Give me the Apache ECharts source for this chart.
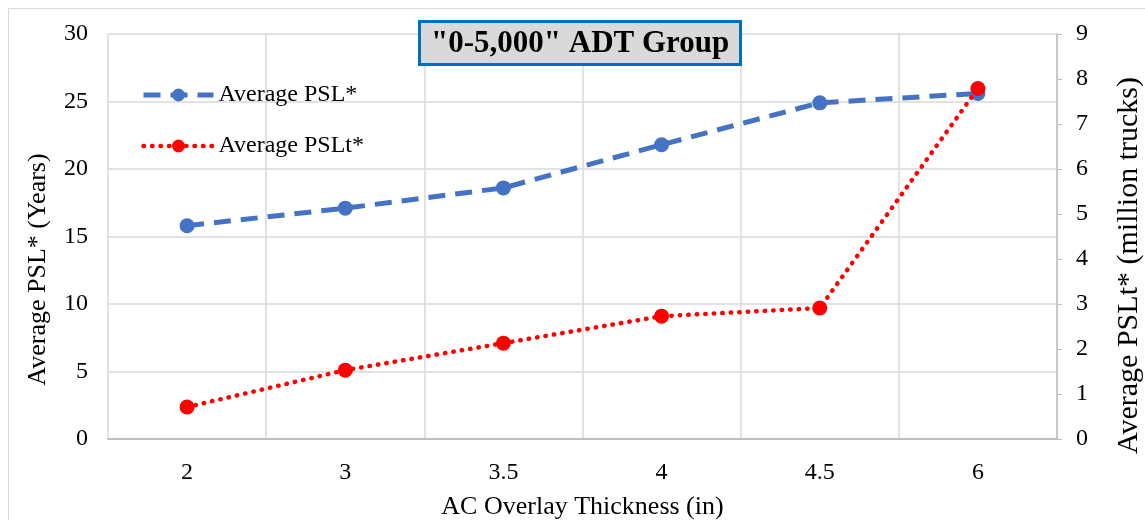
<!DOCTYPE html>
<html>
<head>
<meta charset="utf-8">
<script src="https://cdn.jsdelivr.net/npm/echarts@6/dist/echarts.min.js"></script>
<style>
  html, body { margin: 0; padding: 0; background: #fff; }
  #chart1 { width: 1145px; height: 520px; }
</style>
</head>
<body>
<div id="chart1"></div>
<script>
const categories = ['2', '3', '3.5', '4', '4.5', '6'];
const avgPSL = [15.8, 17.1, 18.6, 21.8, 24.9, 25.6];
const avgPSLt = [0.71, 1.53, 2.13, 2.73, 2.91, 7.79];
const leftTicks = [0, 5, 10, 15, 20, 25, 30];
const rightTicks = [0, 1, 2, 3, 4, 5, 6, 7, 8, 9];

const font = '"Liberation Serif", "Times New Roman", serif';

const getOptionChart1 = () => {
  return {
    animation: false,
    textStyle: { fontFamily: font, color: '#000' },
    title: {
      text: '"0-5,000" ADT Group',
      left: 419,
      top: 21,
      padding: [7, 12, 6, 12],
      backgroundColor: '#d9d9d9',
      borderColor: '#0070c0',
      borderWidth: 3,
      textStyle: { fontFamily: font, fontSize: 31, fontWeight: 'bold', color: '#000' }
    },
    graphic: [{
      type: 'rect',
      shape: { x: 8.5, y: 8.5, width: 1160, height: 540 },
      style: { fill: 'none', stroke: '#d9d9d9', lineWidth: 1 },
      silent: true
    }],
    legend: {
      orient: 'vertical',
      left: 136,
      top: 78,
      itemWidth: 70,
      itemHeight: 16,
      itemGap: 27,
      textStyle: { fontFamily: font, fontSize: 24, color: '#000' },
      data: [
        { name: 'Average PSL*', lineStyle: { width: 5 } },
        { name: 'Average PSLt*', lineStyle: { width: 4.5 } }
      ]
    },
    grid: { left: 108, right: 88, top: 34, bottom: 81, outerBoundsMode: 'none' },
    xAxis: {
      type: 'category',
      data: categories,
      name: 'AC Overlay Thickness (in)',
      nameLocation: 'middle',
      nameGap: 55,
      nameTextStyle: { fontFamily: font, fontSize: 26, color: '#000' },
      axisLine: { lineStyle: { color: '#bfbfbf', width: 2 } },
      axisTick: { show: false },
      axisLabel: { margin: 22, fontFamily: font, fontSize: 24, color: '#000' },
      splitLine: { show: true, lineStyle: { color: '#d9d9d9', width: 1.5 } }
    },
    yAxis: [{
      type: 'value',
      min: leftTicks[0],
      max: leftTicks[leftTicks.length - 1],
      interval: 5,
      name: 'Average PSL* (Years)',
      nameLocation: 'middle',
      nameGap: 57,
      nameTextStyle: { fontFamily: font, fontSize: 26, color: '#000', padding: [0, 66, 0, 0] },
      axisLine: { show: false },
      axisTick: { show: false },
      axisLabel: { margin: 20, fontFamily: font, fontSize: 24, color: '#000' },
      splitLine: { lineStyle: { color: '#d9d9d9', width: 1.5 } }
    }, {
      type: 'value',
      min: rightTicks[0],
      max: rightTicks[rightTicks.length - 1],
      interval: 1,
      name: 'Average PSLt* (million trucks)',
      nameLocation: 'middle',
      nameGap: 57,
      nameRotate: 90,
      nameTextStyle: { fontFamily: font, fontSize: 30, color: '#000', padding: [0, 58, 0, 0] },
      axisLine: { show: true, lineStyle: { color: '#bfbfbf', width: 1.5 } },
      axisTick: { show: true, length: 5, lineStyle: { color: '#bfbfbf' } },
      axisLabel: { margin: 19, fontFamily: font, fontSize: 24, color: '#000' },
      splitLine: { show: false }
    }],
    series: [{
      name: 'Average PSL*',
      type: 'line',
      yAxisIndex: 0,
      data: avgPSL,
      symbol: 'circle',
      symbolSize: 15,
      itemStyle: { color: '#4472c4' },
      lineStyle: { color: '#4472c4', width: 5, type: [17, 10] },
      z: 2
    }, {
      name: 'Average PSLt*',
      type: 'line',
      yAxisIndex: 1,
      data: avgPSLt,
      symbol: 'circle',
      symbolSize: 15,
      itemStyle: { color: '#ff0000' },
      lineStyle: { color: '#ff0000', width: 4.5, type: [0.5, 8], cap: 'round' },
      z: 3
    }]
  };
};

const initChart = () => {
  const chart1 = echarts.init(document.getElementById('chart1'));
  chart1.setOption(getOptionChart1());
};

window.addEventListener('load', function() {
  initChart();
});
</script>
</body>
</html>
